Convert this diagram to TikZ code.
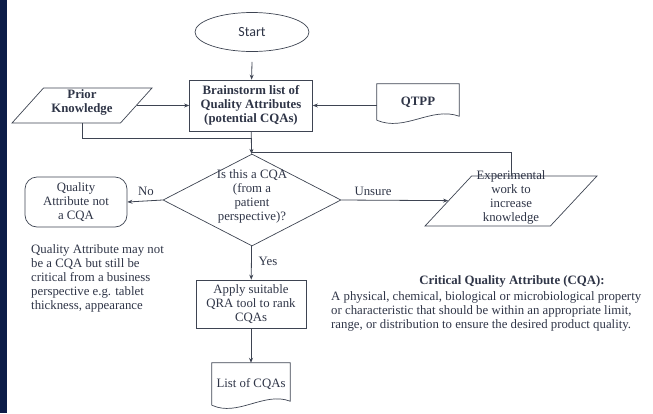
\documentclass[tikz,border=0pt]{standalone}
\usepackage{fontspec}
\setmainfont{Liberation Serif}
\newfontfamily\startfont{Carlito}
\usetikzlibrary{shapes.geometric,arrows.meta}
\definecolor{ink}{HTML}{2F3547}
\definecolor{edge}{HTML}{3E4452}
\definecolor{strip}{HTML}{0C1C48}
\newcommand{\txt}{\fontsize{12.8}{14}\selectfont}
\newcommand{\tightlines}[1]{\smash{\begin{tabular}{@{}c@{}}#1\end{tabular}}}
\newcommand{\talllines}[2]{\raisebox{0pt}[#1][#1]{\begin{tabular}{@{}c@{}}#2\end{tabular}}}
\tikzset{
  box/.style={draw=edge, line width=0.7pt, align=center, inner sep=2pt},
  slanted/.style={trapezium, trapezium stretches body, draw=edge, line width=0.7pt, align=center, inner sep=0pt},
  doc/.style={align=center, inner sep=0pt},
  flow/.style={draw=edge, line width=0.8pt, -{Stealth[length=5pt,width=4pt]}},
  link/.style={draw=edge, line width=0.8pt}
}
\begin{document}
\begin{tikzpicture}[x=1pt,y=-1pt,font=\txt,text=ink]
\useasboundingbox (0,0) rectangle (653,413);
\fill[strip] (0,0) rectangle (7,413);

\node[ellipse, box, minimum width=114, minimum height=39] (start) at (252,32) {\startfont\fontsize{14}{16}\selectfont Start};
\node[box, minimum width=123, minimum height=51, font=\txt\bfseries] (brain) at (251,105.5) {Brainstorm list of\\Quality Attributes\\(potential CQAs)};
\node[slanted, trapezium left angle=48, trapezium right angle=132, minimum width=140, font=\txt\bfseries] (prior) at (82,105.5) {\talllines{17.5pt}{Prior\\Knowledge}};
\node[doc, minimum width=82, minimum height=36, font=\txt\bfseries] (qtpp) at (418,102) {QTPP};
\draw[edge, line width=0.7pt] (qtpp.south west) -- (qtpp.north west) -- (qtpp.north east) -- ([yshift=4pt]qtpp.south east) .. controls +(-28,-10) and +(28,12) .. (qtpp.south west);

\node[diamond, box, minimum width=178, minimum height=92, inner sep=0pt] (dia) at (252,200) {\tightlines{Is this a CQA\\(from a\\patient\\perspective)?}};
\node[box, rounded corners=12pt, minimum width=102, minimum height=50] (term) at (76,202) {Quality\\Attribute not\\a CQA};
\node[slanted, trapezium left angle=47, trapezium right angle=133, minimum width=172] (exp) at (511,201) {\talllines{25pt}{Experimental\\work to\\increase\\knowledge}};
\node[box, minimum width=110, minimum height=48] (apply) at (251,304) {Apply suitable\\QRA tool to rank\\CQAs};
\node[doc, minimum width=78, minimum height=42] (list) at (251,384) {List of CQAs};
\draw[edge, line width=0.7pt] (list.south west) -- (list.north west) -- (list.north east) -- ([yshift=4pt]list.south east) .. controls +(-26,-10) and +(26,12) .. (list.south west);

\node (no) at (146,191) {No};
\node (unsure) at (373,191) {Unsure};
\node (yes) at (268,261) {Yes};
\node[anchor=north west, align=left, inner sep=0pt] (note) at (31,244) {Quality Attribute may not\\be a CQA but still be\\critical from a business\\perspective e.g. tablet\\thickness, appearance};
\node[font=\txt\bfseries] (defhead) at (512,281) {Critical Quality Attribute (CQA):};
\node[anchor=north west, align=left, inner sep=0pt] (defbody) at (331,291) {A physical, chemical, biological or microbiological property\\or characteristic that should be within an appropriate limit,\\range, or distribution to ensure the desired product quality.};

\draw[flow] ([yshift=-10pt]start.south) -- (brain);
\draw[flow] (prior) -- (brain);
\draw[flow] (qtpp.west |- brain) -- (brain.east);
\draw[flow] (brain) -- (dia);
\coordinate (join) at ([yshift=-7pt]brain.south);
\draw[link] (prior.south) |- (join);
\draw[link] (exp.north -| exp.center) |- ([yshift=1pt]dia.north);
\draw[flow] (dia.west) -- (term.east);
\draw[flow] (dia.east) -- (exp);
\draw[flow] (dia) -- (apply);
\draw[flow] (apply) -- (list);
\end{tikzpicture}
\end{document}
